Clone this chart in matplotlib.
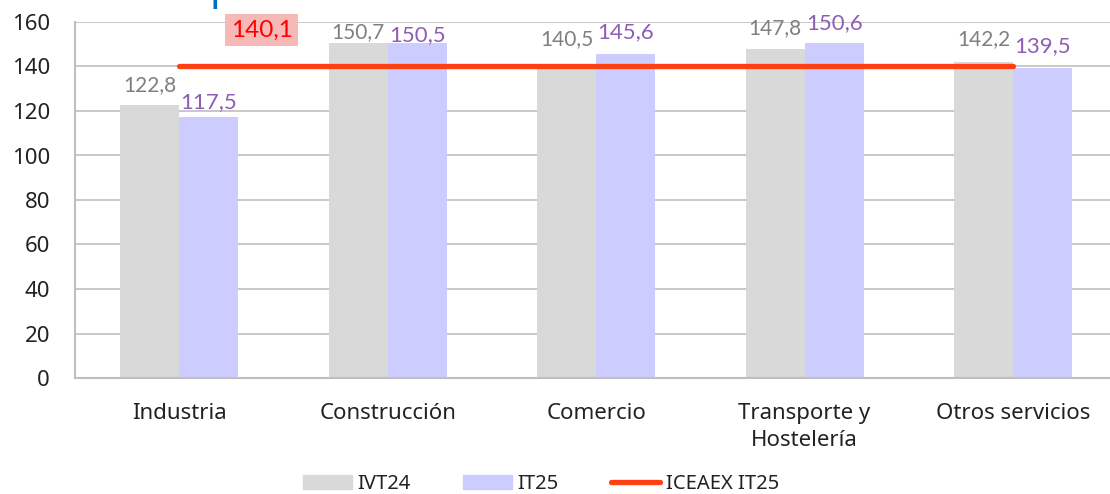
import matplotlib.pyplot as plt
import matplotlib.patches as mpatches
from matplotlib.lines import Line2D
import numpy as np

# Data
categories = ["Industria", "Construcción", "Comercio", "Transporte y\nHostelería", "Otros servicios"]
ivt24 = [122.8, 150.7, 140.5, 147.8, 142.2]
it25 = [117.5, 150.5, 145.6, 150.6, 139.5]
iceaex_it25 = 140.1

# label gaps above bar tops (points), as placed in the original
gap_ivt = [9.5, 3, 14.5, 11, 12]
gap_it = [6, 1.5, 11.5, 10, 11]

gray = "#D9D9D9"
purple = "#CCCCFF"
red_line = "#FF4013"
gray_txt = "#7F7F7F"
purple_txt = "#8E5DB5"
grid_c = "#BFBFBF"

plt.rcParams['font.family'] = ['Noto Sans', 'DejaVu Sans']

fig = plt.figure(figsize=(11.1, 4.94), dpi=100)
ax = fig.add_axes([75 / 1110, 116 / 494, 1035 / 1110, 356 / 494])

x = np.arange(len(categories))
w = 0.283
ax.bar(x - w / 2, ivt24, w, color=gray, zorder=2)
ax.bar(x + w / 2, it25, w, color=purple, zorder=2)
ax.plot([x[0], x[-1]], [iceaex_it25] * 2, color=red_line, lw=3.8,
        solid_capstyle='round', zorder=3)

for xi, v, g in zip(x, ivt24, gap_ivt):
    ax.annotate(f"{v:.1f}".replace(".", ","), (xi - w / 2, v), xytext=(0, g),
                textcoords='offset points', ha='center', va='baseline',
                color=gray_txt, fontsize=15, family='Lato', zorder=4)
for xi, v, g in zip(x, it25, gap_it):
    ax.annotate(f"{v:.1f}".replace(".", ","), (xi + w / 2, v), xytext=(0, g),
                textcoords='offset points', ha='center', va='baseline',
                color=purple_txt, fontsize=16, family='Lato', zorder=4)

ax.text(0.396, 156.3, f"{iceaex_it25:.1f}".replace(".", ","), ha='center', va='center',
        color='#FF0000', fontsize=17.5, family='Lato', zorder=4,
        bbox=dict(boxstyle='square,pad=0.22', fc='#F7B8B8', ec='none'))

ax.set_xlim(-0.5, 4.465)
ax.set_ylim(0, 160)
ax.set_yticks(range(0, 161, 20))
ax.set_xticks(x)
ax.set_xticklabels(categories, fontsize=16, color='#222222', linespacing=1.4)
ax.tick_params(axis='y', length=0, labelsize=16, pad=18, labelcolor='#222222')
ax.tick_params(axis='x', length=0, pad=18)
ax.yaxis.grid(True, color=grid_c, lw=1.2, zorder=0)
ax.set_axisbelow(True)
for s in ['top', 'right']:
    ax.spines[s].set_visible(False)
for s in ['left', 'bottom']:
    ax.spines[s].set_color(grid_c)
    ax.spines[s].set_linewidth(1.5)

handles = [mpatches.Patch(color=gray, label="IVT24"),
           mpatches.Patch(color=purple, label="IT25"),
           Line2D([0], [0], color=red_line, lw=3.8, solid_capstyle='round', label="ICEAEX IT25")]
fig.legend(handles=handles, loc='center', bbox_to_anchor=(541 / 1110, 10 / 494), ncol=3,
           frameon=False, fontsize=14.5, handlelength=2.4, handleheight=0.7,
           handletextpad=0.3, columnspacing=2.6, labelcolor='#222222')

# cut-off title fragment at the very top
fig.text(0.189, 1.003, "p", color='#0070C0', fontsize=30, fontweight='bold', va='baseline')

fig.savefig("out.png", dpi=100)
